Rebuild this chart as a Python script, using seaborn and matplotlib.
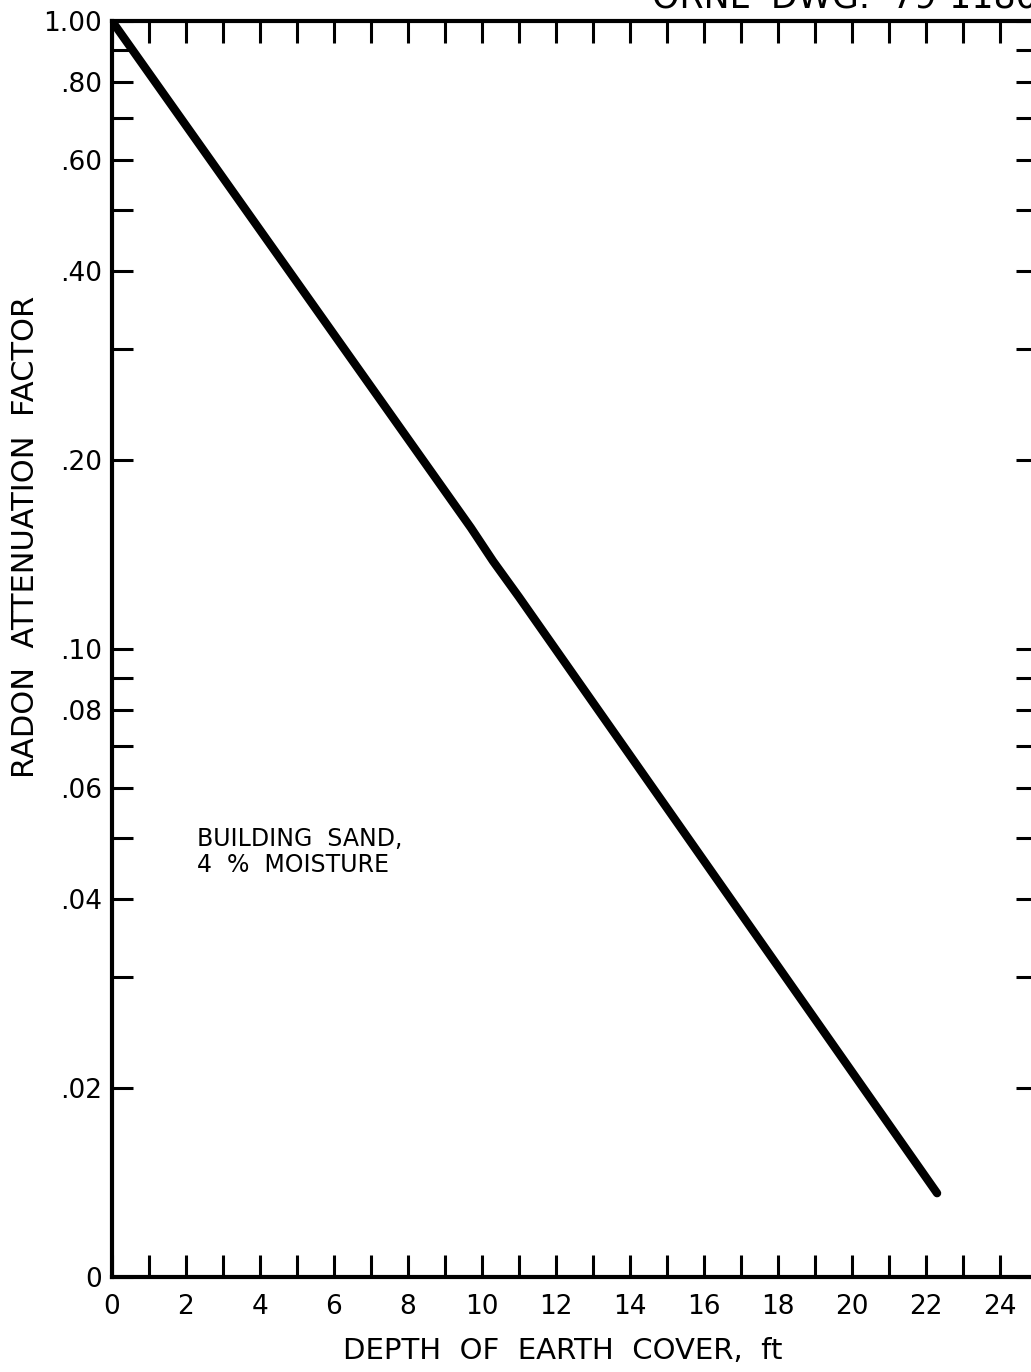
import numpy as np
import pandas as pd
import matplotlib
matplotlib.use("Agg")
from matplotlib import pyplot as plt
from matplotlib.ticker import FixedLocator, NullFormatter
import seaborn as sns

# values
depth_ft = [0.0, 9.7, 10.3, 11.0, 22.3]
attenuation = [1.0, 0.156, 0.138, 0.121, 0.0136]

ytick_vals = [1.0, 0.8, 0.6, 0.4, 0.2, 0.1, 0.08, 0.06, 0.04, 0.02, 0.01]
ytick_labels = ["1.00", ".80", ".60", ".40", ".20", ".10", ".08", ".06", ".04", ".02", "0"]
yminor_vals = [0.9, 0.7, 0.5, 0.3, 0.09, 0.07, 0.05, 0.03]
xtick_vals = list(range(0, 25, 2))
xminor_vals = list(range(1, 25))

sns.set_style("ticks")
plt.rcParams['font.family'] = ['DejaVu Sans']
plt.rcParams['text.color'] = 'black'
plt.rcParams['axes.labelcolor'] = 'black'
plt.rcParams['xtick.color'] = 'black'
plt.rcParams['ytick.color'] = 'black'

df = pd.DataFrame({"depth": depth_ft, "factor": attenuation})

fig = plt.figure(figsize=(10.31, 13.72), dpi=100)
ax = fig.add_axes([0.1086, 0.0692, 0.8972, 0.9155])

sns.lineplot(data=df, x="depth", y="factor", color="black", linewidth=6,
             solid_capstyle="round", solid_joinstyle="round", ax=ax)

ax.set_yscale("log")
ax.set_ylim(0.01, 1.0)
ax.set_xlim(0, 25)

ax.yaxis.set_major_locator(FixedLocator(ytick_vals))
ax.set_yticklabels(ytick_labels)
ax.yaxis.set_minor_locator(FixedLocator(yminor_vals))
ax.yaxis.set_minor_formatter(NullFormatter())
ax.xaxis.set_major_locator(FixedLocator(xtick_vals))
ax.xaxis.set_minor_locator(FixedLocator(xminor_vals))

for s in ax.spines.values():
    s.set_linewidth(3)
    s.set_color("black")

ax.tick_params(axis="y", which="both", direction="in", length=15, width=2.2,
               left=True, right=True, labelsize=19, pad=7)
ax.tick_params(axis="x", which="both", direction="in", length=16, width=2.2,
               top=True, bottom=True, labelsize=19, pad=12)

ax.set_xlabel("DEPTH  OF  EARTH  COVER,  ft", fontsize=21)
ax.set_ylabel("RADON  ATTENUATION  FACTOR", fontsize=22)
ax.xaxis.set_label_coords(0.4876, -0.048)
ax.yaxis.set_label_coords(-0.0778, 0.589)

ax.text(2.3, 0.0475, "BUILDING  SAND,\n4  %  MOISTURE", fontsize=17,
        ha="left", va="center", linespacing=1.15)

fig.text(0.632, 1.002, "ORNL  DWG.  79-11805", fontsize=25, ha="left", va="center")

plt.savefig("out.png", dpi=100)
